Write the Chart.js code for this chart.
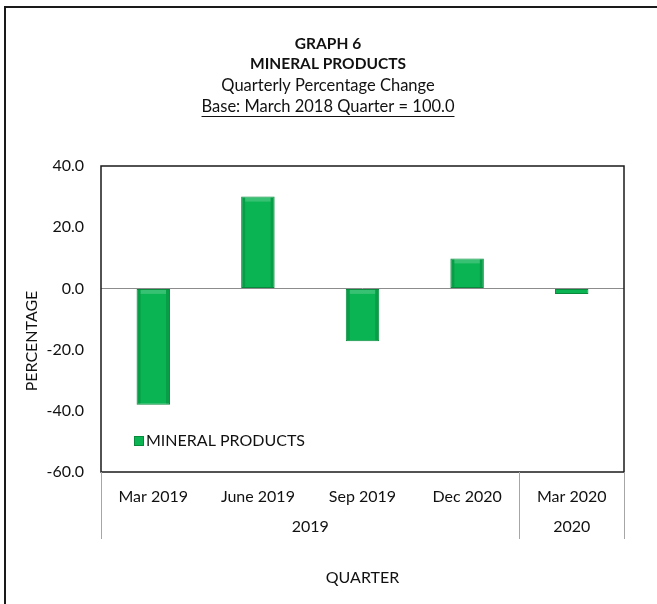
<!DOCTYPE html>
<html>
<head>
<meta charset="utf-8">
<script src="https://cdn.jsdelivr.net/npm/chart.js@4.4.1/dist/chart.umd.min.js"></script>
<style>
  html, body { margin: 0; padding: 0; background: #ffffff; }
  #wrap { width: 657px; height: 604px; position: relative; }
</style>
</head>
<body>
<div id="wrap"><canvas id="c" width="657" height="604"></canvas></div>
<script>
// ---- Data ----
const categories = ["Mar 2019", "June 2019", "Sep 2019", "Dec 2020", "Mar 2020"];
const groupLabels = ["2019", "2020"];
const groupSizes = [4, 1];
const seriesName = "MINERAL PRODUCTS";
const seriesValues = [-38.0, 30.0, -17.3, 9.8, -1.8];
const titleLines = ["GRAPH 6", "MINERAL PRODUCTS", "Quarterly Percentage Change", "Base: March 2018 Quarter = 100.0"];
const yTitle = "PERCENTAGE";
const xTitle = "QUARTER";
const yMin = -60, yMax = 40, yStep = 20;

const FONT = "Lato, 'Open Sans', sans-serif";
const TEXT = "#111111";
const BAR = "#0bb453";
const BAR_EDGE = "#078a3c";

const decorPlugin = {
  id: 'decor',
  beforeDraw(chart) {
    const ctx = chart.ctx;
    ctx.save();
    ctx.fillStyle = '#ffffff';
    ctx.fillRect(0, 0, chart.width, chart.height);
    ctx.strokeStyle = '#1a1a1a';
    ctx.lineWidth = 2;
    ctx.beginPath();
    ctx.moveTo(5, chart.height);
    ctx.lineTo(5, 7);
    ctx.lineTo(chart.width, 7);
    ctx.stroke();
    ctx.restore();
  },
  afterDatasetsDraw(chart) {
    // subtle bevel highlight on bars
    const ctx = chart.ctx;
    const meta = chart.getDatasetMeta(0);
    ctx.save();
    meta.data.forEach(el => {
      const p = el.getProps(['x', 'y', 'base', 'width'], true);
      const x0 = p.x - p.width / 2, x1 = p.x + p.width / 2;
      const top = Math.min(p.y, p.base), bot = Math.max(p.y, p.base);
      const h = bot - top;
      if (h < 6) return;
      ctx.fillStyle = 'rgba(0,90,40,0.25)';
      ctx.fillRect(x0 + 1, top + 1, 3, h - 2);
      ctx.fillRect(x1 - 4, top + 1, 3, h - 2);
      ctx.fillStyle = 'rgba(255,255,255,0.18)';
      ctx.fillRect(x0 + 4, top + 1, p.width - 8, 4);
    });
    ctx.restore();
  },
  afterDraw(chart) {
    const ctx = chart.ctx;
    const a = chart.chartArea;
    const xs = chart.scales.x;
    ctx.save();
    ctx.fillStyle = TEXT;
    ctx.textAlign = 'center';
    ctx.textBaseline = 'middle';
    const cx = 328;
    const ys = [44, 64, 86, 107];
    titleLines.forEach((t, i) => {
      ctx.font = (i < 2 ? 'bold 15.5px ' : '16.5px ') + FONT;
      ctx.fillText(t, cx, ys[i]);
      if (i === 3) {
        const w = ctx.measureText(t).width;
        ctx.fillRect(cx - w / 2, ys[i] + 9, w, 1);
      }
    });
    ctx.strokeStyle = '#1a1a1a';
    ctx.lineWidth = 1.5;
    ctx.strokeRect(a.left, a.top, a.right - a.left, a.bottom - a.top);
    ctx.strokeStyle = '#a6a6a6';
    ctx.lineWidth = 1;
    const bounds = [a.left];
    let idx = 0;
    groupSizes.forEach((n, gi) => {
      idx += n;
      if (gi < groupSizes.length - 1) {
        bounds.push((xs.getPixelForValue(idx - 1) + xs.getPixelForValue(idx)) / 2);
      }
    });
    bounds.push(a.right);
    bounds.forEach(bx => {
      ctx.beginPath();
      ctx.moveTo(Math.round(bx) + 0.5, a.bottom);
      ctx.lineTo(Math.round(bx) + 0.5, 539);
      ctx.stroke();
    });
    ctx.fillStyle = TEXT;
    ctx.font = '16px ' + FONT;
    groupLabels.forEach((g, i) => {
      ctx.fillText(g, (bounds[i] + bounds[i + 1]) / 2, 527);
    });
    ctx.fillText(xTitle, (a.left + a.right) / 2, 578);
    ctx.save();
    ctx.translate(32, 341);
    ctx.rotate(-Math.PI / 2);
    ctx.fillText(yTitle, 0, 0);
    ctx.restore();
    ctx.fillStyle = BAR;
    ctx.fillRect(134, 436, 10, 10);
    ctx.strokeStyle = BAR_EDGE;
    ctx.strokeRect(134.5, 436.5, 9, 9);
    ctx.fillStyle = TEXT;
    ctx.textAlign = 'left';
    ctx.font = '16px ' + FONT;
    ctx.fillText(seriesName, 146, 441);
    ctx.restore();
  }
};

new Chart(document.getElementById('c'), {
  type: 'bar',
  data: {
    labels: categories,
    datasets: [{
      label: seriesName,
      data: seriesValues,
      backgroundColor: BAR,
      borderColor: BAR_EDGE,
      borderWidth: 1,
      borderSkipped: false,
      categoryPercentage: 1,
      barPercentage: 0.32
    }]
  },
  options: {
    responsive: false,
    animation: false,
    devicePixelRatio: 1,
    layout: { padding: { left: 0, right: 33, top: 166, bottom: 0 } },
    plugins: { legend: { display: false }, title: { display: false }, tooltip: { enabled: false } },
    scales: {
      x: {
        afterFit(s) { s.height = 132; },
        grid: { display: false, drawTicks: false },
        border: { display: false },
        ticks: { color: TEXT, font: { family: FONT, size: 16 }, padding: 15, maxRotation: 0, autoSkip: false }
      },
      y: {
        min: yMin, max: yMax,
        afterFit(s) { s.width = 101; },
        grid: {
          drawTicks: false,
          color: c => (c.tick && c.tick.value === 0) ? '#8c8c8c' : 'rgba(0,0,0,0)',
          lineWidth: 1
        },
        border: { display: false },
        ticks: {
          stepSize: yStep, padding: 17, color: TEXT,
          font: { family: FONT, size: 16 },
          callback: v => Number(v).toFixed(1)
        }
      }
    }
  },
  plugins: [decorPlugin]
});
</script>
</body>
</html>
